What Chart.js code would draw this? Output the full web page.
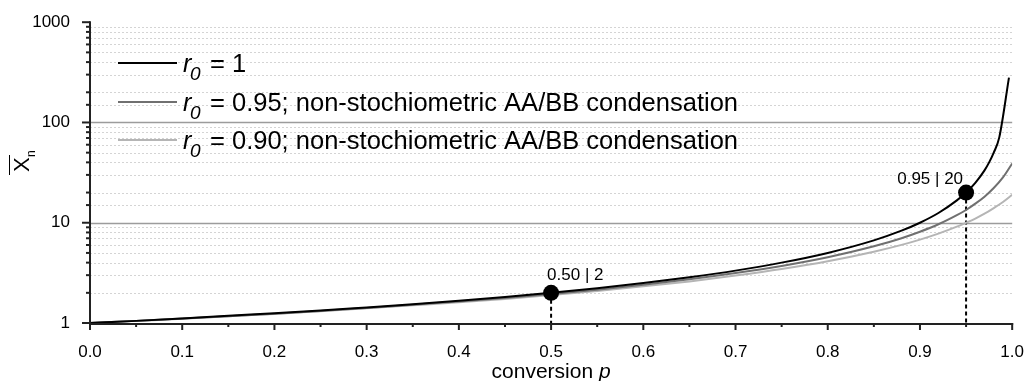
<!DOCTYPE html>
<html>
<head>
<meta charset="utf-8">
<script src="https://cdn.jsdelivr.net/npm/chart.js@4.4.1/dist/chart.umd.min.js"></script>
<style>
  html, body { margin: 0; padding: 0; background: #ffffff; }
  #wrap { width: 1035px; height: 381px; }
</style>
</head>
<body>
<div id="wrap"><canvas id="chart" width="1035" height="381"></canvas></div>
<script>
const FONT = '"Liberation Sans", Arial, Helvetica, sans-serif';

// Conversion p and number-average degree of polymerisation, stoichiometric case (r0 = 1)
const pStoich  = [0, 0.05, 0.1, 0.15, 0.2, 0.25, 0.3, 0.35, 0.4, 0.45, 0.5, 0.55, 0.6, 0.65, 0.7, 0.75, 0.8, 0.85, 0.88, 0.9, 0.92, 0.94, 0.95, 0.96, 0.97, 0.975, 0.98, 0.986, 0.9965];
const xnStoich = [1, 1.05, 1.11, 1.18, 1.25, 1.33, 1.43, 1.54, 1.67, 1.82, 2, 2.22, 2.5, 2.86, 3.33, 4, 5, 6.67, 8.33, 10, 12.5, 16.7, 20, 25, 33.3, 40, 50, 71, 280];

// Non-stoichiometric AA/BB condensation (r0 = 0.95 and r0 = 0.90)
const pNonStoich = [0, 0.05, 0.1, 0.15, 0.2, 0.25, 0.3, 0.35, 0.4, 0.45, 0.5, 0.55, 0.6, 0.65, 0.7, 0.75, 0.8, 0.85, 0.88, 0.9, 0.92, 0.94, 0.95, 0.96, 0.97, 0.98, 0.99, 1.0];
const xnR095 = [1, 1.05, 1.11, 1.17, 1.24, 1.32, 1.41, 1.52, 1.64, 1.78, 1.95, 2.15, 2.41, 2.73, 3.15, 3.71, 4.53, 5.82, 7.01, 8.13, 9.65, 11.9, 13.4, 15.5, 18.2, 22.2, 28.3, 39];
const xnR090 = [1, 1.05, 1.10, 1.17, 1.23, 1.31, 1.40, 1.50, 1.61, 1.74, 1.90, 2.09, 2.32, 2.60, 2.97, 3.45, 4.13, 5.14, 6.01, 6.79, 7.79, 9.13, 10.0, 11.0, 12.3, 14.0, 16.1, 19];

// Highlighted points on the r0 = 1 curve
const markP = [0.5, 0.95];
const markXn = [2, 20];
const markLabels = ['0.50 | 2', '0.95 | 20'];

// Legend entries (text after "r0 = ")
const legendValues = ['1', '0.95; non-stochiometric AA/BB condensation', '0.90; non-stochiometric AA/BB condensation'];
const seriesColors = ['#000000', '#707070', '#b5b5b5'];

// Axis labelling
const yMajorTicks = [1, 10, 100, 1000];
const ySolidGrid = [10, 100];
const xMin = 0, xMax = 1, xStep = 0.1, xMinorStep = 0.05;
const yMin = 1, yMax = 1000;

const toPoints = (xs, ys) => xs.map((x, i) => ({ x: x, y: ys[i] }));

// label placement of the highlighted points: [align, dx, dy]
const markLabelPlacement = [['left', -4, -13], ['right', -3, -9]];
const legendRows = [63, 102, 140];

const decorPlugin = {
  id: 'decor',
  beforeDatasetsDraw(chart) {
    const ctx = chart.ctx;
    const xs = chart.scales.x, ys = chart.scales.y;
    const area = chart.chartArea;
    ctx.save();
    // horizontal grid lines
    ys.ticks.forEach(t => {
      const v = t.value;
      if (v <= yMin || v >= yMax) return;
      const y = Math.round(ys.getPixelForValue(v)) + 0.5;
      ctx.beginPath();
      if (ySolidGrid.includes(v)) {
        ctx.setLineDash([]);
        ctx.strokeStyle = '#9c9c9c';
        ctx.lineWidth = 1.5;
      } else {
        ctx.setLineDash([2, 2]);
        ctx.strokeStyle = '#d4d4d4';
        ctx.lineWidth = 1;
      }
      ctx.moveTo(area.left, y);
      ctx.lineTo(area.right, y);
      ctx.stroke();
    });
    ctx.setLineDash([]);
    // dashed drop lines from the highlighted points
    ctx.strokeStyle = '#000';
    ctx.lineWidth = 2;
    ctx.setLineDash([4, 3]);
    markP.forEach((p, i) => {
      const x = xs.getPixelForValue(p);
      const y = ys.getPixelForValue(markXn[i]);
      ctx.beginPath();
      ctx.moveTo(x, y);
      ctx.lineTo(x, area.bottom);
      ctx.stroke();
    });
    ctx.restore();
  },
  afterDraw(chart) {
    const ctx = chart.ctx;
    const xs = chart.scales.x, ys = chart.scales.y;
    const area = chart.chartArea;
    ctx.save();
    ctx.setLineDash([]);
    ctx.strokeStyle = '#222';
    ctx.lineWidth = 2;
    // axes
    ctx.beginPath();
    ctx.moveTo(area.left, area.top - 1);
    ctx.lineTo(area.left, area.bottom + 1);
    ctx.lineTo(area.right + 1, area.bottom + 1);
    ctx.stroke();
    // y ticks (major + minor)
    ys.ticks.forEach(t => {
      const y = ys.getPixelForValue(t.value);
      const len = yMajorTicks.includes(t.value) ? 8 : 4;
      ctx.beginPath();
      ctx.moveTo(area.left - len, y);
      ctx.lineTo(area.left, y);
      ctx.stroke();
    });
    // x ticks (major + minor)
    const n = Math.round((xMax - xMin) / xMinorStep);
    for (let i = 0; i <= n; i++) {
      const v = xMin + i * xMinorStep;
      const x = xs.getPixelForValue(v);
      const len = (i % 2 === 0) ? 7 : 4;
      ctx.beginPath();
      ctx.moveTo(x, area.bottom);
      ctx.lineTo(x, area.bottom + len);
      ctx.stroke();
    }

    // point labels
    ctx.fillStyle = '#000';
    ctx.font = '17px ' + FONT;
    ctx.textBaseline = 'alphabetic';
    markP.forEach((p, i) => {
      const x = xs.getPixelForValue(p);
      const y = ys.getPixelForValue(markXn[i]);
      const [align, dx, dy] = markLabelPlacement[i];
      ctx.textAlign = align;
      ctx.fillText(markLabels[i], x + dx, y + dy);
    });

    // legend
    ctx.textAlign = 'left';
    legendValues.forEach((txt, i) => {
      const y = legendRows[i];
      ctx.strokeStyle = seriesColors[i];
      ctx.lineWidth = 2;
      ctx.beginPath();
      ctx.moveTo(118, y);
      ctx.lineTo(177, y);
      ctx.stroke();
      ctx.fillStyle = '#000';
      ctx.font = 'italic 25px ' + FONT;
      ctx.fillText('r', 183, y + 9);
      ctx.font = 'italic 19px ' + FONT;
      ctx.fillText('0', 190, y + 17);
      ctx.font = '25.5px ' + FONT;
      ctx.fillText('= ' + txt, 210, y + 9);
    });

    // x axis title
    ctx.font = '21px ' + FONT;
    const w1 = ctx.measureText('conversion ').width;
    ctx.font = 'italic 21px ' + FONT;
    const w2 = ctx.measureText('p').width;
    const cx = (area.left + area.right) / 2;
    let tx = cx - (w1 + w2) / 2;
    ctx.font = '21px ' + FONT;
    ctx.fillText('conversion ', tx, 378);
    ctx.font = 'italic 21px ' + FONT;
    ctx.fillText('p', tx + w1, 378);

    // y axis title: X with overline, subscript n
    ctx.translate(29, 165);
    ctx.rotate(-Math.PI / 2);
    ctx.font = '22px ' + FONT;
    ctx.fillText('X', -7, 0);
    ctx.strokeStyle = '#000';
    ctx.lineWidth = 1;
    ctx.beginPath();
    ctx.moveTo(-10, -19.5);
    ctx.lineTo(10, -19.5);
    ctx.stroke();
    ctx.font = '12px ' + FONT;
    ctx.fillText('n', 8, 6);
    ctx.restore();
  }
};

new Chart(document.getElementById('chart'), {
  type: 'line',
  data: {
    datasets: [
      { label: 'r0 = 1', data: toPoints(pStoich, xnStoich), borderColor: seriesColors[0], borderWidth: 2, pointRadius: 0, cubicInterpolationMode: 'monotone', order: 1 },
      { label: 'r0 = 0.95', data: toPoints(pNonStoich, xnR095), borderColor: seriesColors[1], borderWidth: 2, pointRadius: 0, cubicInterpolationMode: 'monotone', order: 2 },
      { label: 'r0 = 0.90', data: toPoints(pNonStoich, xnR090), borderColor: seriesColors[2], borderWidth: 2, pointRadius: 0, cubicInterpolationMode: 'monotone', order: 3 },
      { label: 'marks', data: toPoints(markP, markXn), showLine: false, pointRadius: 8, pointHoverRadius: 8, pointBackgroundColor: '#000', pointBorderColor: '#000', pointBorderWidth: 0, order: 0 }
    ]
  },
  options: {
    responsive: false,
    animation: false,
    devicePixelRatio: 1,
    layout: { padding: { top: 20, right: 14, bottom: 0, left: 0 } },
    plugins: { legend: { display: false }, tooltip: { enabled: false } },
    events: [],
    scales: {
      x: {
        type: 'linear', min: xMin, max: xMax,
        grid: { display: false },
        border: { display: false },
        ticks: {
          stepSize: xStep, padding: 11, color: '#000',
          font: { family: FONT, size: 17 },
          callback: v => Number(v).toFixed(1)
        },
        afterFit: s => { s.height = 58; }
      },
      y: {
        type: 'logarithmic', min: yMin, max: yMax,
        grid: { display: false },
        border: { display: false },
        ticks: {
          padding: 12, color: '#000', autoSkip: false,
          font: { family: FONT, size: 17 },
          callback: v => yMajorTicks.includes(v) ? String(v) : ''
        },
        afterFit: s => { s.width = 90; }
      }
    }
  },
  plugins: [decorPlugin]
});
</script>
</body>
</html>
